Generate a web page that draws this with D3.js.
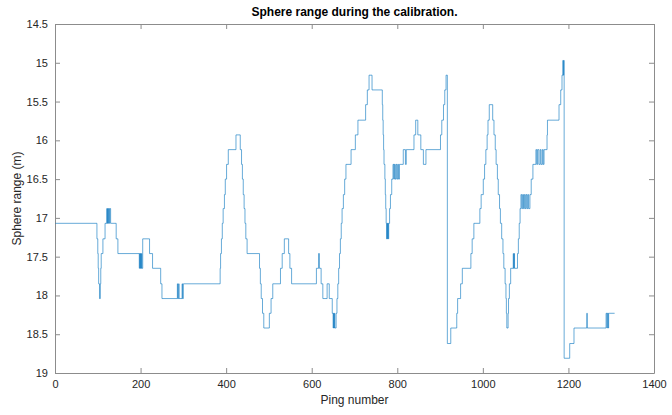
<!DOCTYPE html>
<html>
<head>
<meta charset="utf-8">
<script src="https://cdn.jsdelivr.net/npm/d3@7/dist/d3.min.js"></script>
<style>
  html, body { margin: 0; padding: 0; background: #fff; }
  svg { display: block; font-family: "Liberation Sans", Arial, sans-serif; }
</style>
</head>
<body>
<svg id="chart" width="672" height="415"></svg>
<script>
// Ping numbers at which the measured sphere range changes (held until the next one)
const pingStart = [
  1, 98, 100, 101, 102, 104, 106, 107, 108, 112, 117,
  121, 122, 123, 124, 125, 127, 128, 130, 131,
  143, 147, 197, 198, 199, 200, 201, 202, 203, 205, 221, 228, 247, 250,
  286, 287, 289, 290, 297, 298, 300,
  386, 387, 389, 391, 393, 396, 398, 401, 405, 423, 433,
  436, 438, 440, 442, 444, 446, 449,
  478, 480, 482, 485, 488, 501, 505, 509, 527, 531, 536, 546, 549, 553,
  611, 616, 618, 622, 626, 636, 641, 648, 650, 651, 652, 653, 654, 655,
  657, 659, 661, 663, 665, 667, 669, 671, 674, 677, 680, 692, 702, 708, 726, 730, 734, 741,
  765, 766, 767, 768, 769, 771, 772, 773, 774, 775, 776, 777, 778, 779,
  780, 782, 784, 787, 790, 792, 793, 795, 797, 799, 801, 803, 805, 814, 819, 821,
  839, 843, 848, 855, 861, 867,
  901, 904, 908, 911, 914, 917, 925,
  939, 941, 948, 952, 972, 975, 979, 993, 996, 1001, 1004, 1007, 1010, 1012, 1015,
  1023, 1026, 1029, 1031, 1034, 1036, 1039, 1041, 1044, 1047, 1049, 1052, 1054, 1055, 1056,
  1059, 1060, 1062, 1065, 1071, 1072, 1073, 1074, 1081, 1083, 1085, 1087,
  1089, 1091, 1093, 1095, 1097, 1099, 1101, 1103, 1105, 1107, 1110, 1113, 1117,
  1124, 1126, 1128, 1131, 1134, 1136, 1139, 1141, 1143, 1150, 1151,
  1178, 1182, 1185, 1187, 1188, 1189, 1190,
  1203, 1213, 1243, 1244, 1288, 1290, 1291, 1293, 1294, 1296, 1308
];

// Sphere range (m) for each of the pings above
const rangeM = [
  17.07, 17.27, 17.46, 17.65, 17.85, 18.04, 17.85, 17.65, 17.46, 17.27, 17.07,
  16.88, 17.07, 16.88, 17.07, 16.88, 17.07, 16.88, 17.07, 17.07,
  17.27, 17.46, 17.65, 17.46, 17.65, 17.46, 17.65, 17.46, 17.65, 17.27, 17.46, 17.65, 17.85, 18.04,
  17.85, 18.04, 17.85, 18.04, 17.85, 18.04, 17.85,
  17.65, 17.46, 17.27, 17.07, 16.88, 16.70, 16.50, 16.31, 16.12, 15.93, 16.12,
  16.31, 16.50, 16.70, 16.88, 17.07, 17.27, 17.46,
  17.65, 17.85, 18.04, 18.23, 18.42, 18.23, 18.04, 17.85, 17.65, 17.46, 17.27, 17.46, 17.65, 17.85,
  17.65, 17.46, 17.65, 17.85, 18.04, 17.85, 18.04, 18.23, 18.42, 18.23, 18.42, 18.23, 18.42, 18.42,
  18.23, 18.04, 17.85, 17.65, 17.46, 17.27, 17.07, 16.88, 16.70, 16.50, 16.31, 16.12, 15.93, 15.74, 15.54, 15.35, 15.16, 15.35,
  15.54, 15.74, 15.93, 16.12, 16.31, 16.50, 16.70, 16.88, 17.07, 17.27, 17.07, 17.27, 17.07, 17.27,
  17.07, 16.88, 16.70, 16.50, 16.31, 16.50, 16.31, 16.50, 16.31, 16.50, 16.31, 16.50, 16.31, 16.12, 16.31, 16.12,
  15.93, 15.74, 15.93, 16.12, 16.31, 16.12,
  15.93, 15.74, 15.54, 15.35, 15.16, 18.62, 18.42,
  18.23, 18.04, 17.85, 17.65, 17.46, 17.27, 17.07, 16.88, 16.70, 16.50, 16.31, 16.12, 15.93, 15.74, 15.54,
  15.74, 15.93, 16.12, 16.31, 16.50, 16.70, 16.88, 17.07, 17.27, 17.46, 17.65, 17.85, 18.04, 18.23, 18.42,
  18.23, 18.04, 17.85, 17.65, 17.46, 17.65, 17.46, 17.65, 17.46, 17.27, 17.07, 16.88,
  16.70, 16.88, 16.70, 16.88, 16.70, 16.88, 16.70, 16.88, 16.70, 16.88, 16.70, 16.50, 16.31,
  16.12, 16.31, 16.12, 16.31, 16.12, 16.31, 16.12, 16.31, 16.12, 15.93, 15.74,
  15.54, 15.35, 15.16, 14.97, 15.16, 14.97, 18.81,
  18.62, 18.42, 18.23, 18.42, 18.23, 18.42, 18.23, 18.42, 18.23, 18.23, 18.23
];

const xTicks = [0, 200, 400, 600, 800, 1000, 1200, 1400];
const yTicks = [14.5, 15, 15.5, 16, 16.5, 17, 17.5, 18, 18.5, 19];

const titleText = "Sphere range during the calibration.";
const xLabel = "Ping number";
const yLabel = "Sphere range (m)";

const svg = d3.select("#chart");
const plot = { left: 55, right: 654, top: 24, bottom: 373 };

const x = d3.scaleLinear().domain([0, 1400]).range([plot.left, plot.right]);
// range grows downward, as on the original MATLAB figure (reversed y axis)
const y = d3.scaleLinear().domain([14.5, 19]).range([plot.top, plot.bottom]);

const axisColor = "#8c8c8c";
const textColor = "#262626";
const tickLen = 5;
const fmt = d => String(d);

const data = pingStart.map((p, i) => ({ p, v: rangeM[i] }));

// axes: ticks point inward on all four sides
function styleAxis(g) {
  g.select(".domain").attr("stroke", axisColor).attr("stroke-width", 1);
  g.selectAll(".tick line").attr("stroke", axisColor).attr("stroke-width", 1);
  g.selectAll(".tick text").attr("fill", textColor).style("font-size", "11px");
}

svg.append("g")
  .attr("transform", `translate(0,${plot.bottom})`)
  .call(d3.axisBottom(x).tickValues(xTicks).tickFormat(fmt).tickSizeInner(-tickLen).tickSizeOuter(0).tickPadding(7))
  .call(styleAxis);

svg.append("g")
  .attr("transform", `translate(0,${plot.top})`)
  .call(d3.axisTop(x).tickValues(xTicks).tickFormat("").tickSizeInner(-tickLen).tickSizeOuter(0))
  .call(styleAxis);

svg.append("g")
  .attr("transform", `translate(${plot.left},0)`)
  .call(d3.axisLeft(y).tickValues(yTicks).tickFormat(fmt).tickSizeInner(-tickLen).tickSizeOuter(0).tickPadding(7))
  .call(styleAxis);

svg.append("g")
  .attr("transform", `translate(${plot.right},0)`)
  .call(d3.axisRight(y).tickValues(yTicks).tickFormat("").tickSizeInner(-tickLen).tickSizeOuter(0))
  .call(styleAxis);

svg.selectAll(".domain").attr("fill", "none");

// the ping series, held constant between changes
const line = d3.line()
  .x(d => x(d.p))
  .y(d => y(d.v))
  .curve(d3.curveStepAfter);

svg.append("path")
  .datum(data)
  .attr("fill", "none")
  .attr("stroke", "#0072BD")
  .attr("stroke-width", 0.8)
  .attr("stroke-opacity", 0.75)
  .attr("d", line);

svg.append("text")
  .attr("x", (plot.left + plot.right) / 2)
  .attr("y", 16)
  .attr("text-anchor", "middle")
  .attr("fill", "#000")
  .style("font-size", "12px")
  .style("font-weight", "bold")
  .text(titleText);

svg.append("text")
  .attr("x", (plot.left + plot.right) / 2)
  .attr("y", 404)
  .attr("text-anchor", "middle")
  .attr("fill", textColor)
  .style("font-size", "12px")
  .text(xLabel);

svg.append("text")
  .attr("transform", `translate(21,${(plot.top + plot.bottom) / 2}) rotate(-90)`)
  .attr("text-anchor", "middle")
  .attr("fill", textColor)
  .style("font-size", "12px")
  .text(yLabel);
</script>
</body>
</html>
